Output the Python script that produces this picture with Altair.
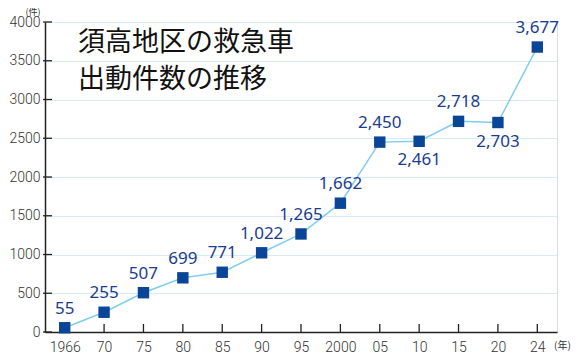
import altair as alt
import pandas as pd

years = ["1966", "70", "75", "80", "85", "90", "95", "2000", "05", "10", "15", "20", "24"]
counts = [55, 255, 507, 699, 771, 1022, 1265, 1662, 2450, 2461, 2718, 2703, 3677]
labels = ["55", "255", "507", "699", "771", "1,022", "1,265", "1,662", "2,450", "2,461", "2,718", "2,703", "3,677"]
below = [False, False, False, False, False, False, False, False, False, True, False, True, False]
yticks = [0, 500, 1000, 1500, 2000, 2500, 3000, 3500, 4000]
title_line1 = "須高地区の救急車"
title_line2 = "出動件数の推移"

df = pd.DataFrame({"year": years, "count": counts, "label": labels, "below": below})
above_df = df[~df["below"]]
below_df = df[df["below"]]
tick_df = pd.DataFrame({"count": yticks})

W, H = 512, 310
AXF = "Roboto"
xs = alt.Scale(domain=years, type="point", padding=0.5)
ys = alt.Scale(domain=[0, 4000], nice=False)

X = alt.X("year:N", scale=xs, sort=years,
          axis=alt.Axis(title=None, labelAngle=0, ticks=False, domain=True,
                        domainColor="#222", domainWidth=1.5, labelFont=AXF,
                        labelFontSize=14, labelFontWeight=300, labelColor="#333",
                        labelPadding=8, grid=False, labelOverlap=False))
Y = alt.Y("count:Q", scale=ys,
          axis=alt.Axis(title=None, values=yticks, format="d", ticks=False, domain=True,
                        domainColor="#222", domainWidth=1.5, labelFont=AXF,
                        labelFontSize=14, labelFontWeight=300, labelColor="#333", labelPadding=5,
                        labelOverlap=False,
                        grid=True, gridColor="#d6ecf7", gridWidth=1))

base = alt.Chart(df)

line = base.mark_line(color="#7fcdf0", strokeWidth=1.5).encode(x=X, y=Y)

xt = alt.Chart(df).mark_rule(color="#222", strokeWidth=1.3).encode(
    x=X, y=alt.value(H), y2=alt.value(H - 8))
yt = alt.Chart(tick_df).mark_rule(color="#222", strokeWidth=1.3).encode(
    y=Y, x=alt.value(-2), x2=alt.value(7))

pts = base.mark_square(size=130, color="#0a4597", opacity=1).encode(x=X, y=Y)

lab_a = alt.Chart(above_df).mark_text(dy=-19, fontSize=17, color="#1b3c8e",
                                      font="Noto Sans").encode(x=X, y=Y, text="label:N")
lab_b = alt.Chart(below_df).mark_text(dy=19, fontSize=17, color="#1b3c8e",
                                      font="Noto Sans").encode(x=X, y=Y, text="label:N")

def title_text(t, ypix):
    return alt.Chart(pd.DataFrame({"t": [t]})).mark_text(
        align="left", baseline="middle", fontSize=27,
        font="Noto Sans CJK JP", color="#111").encode(
        x=alt.value(33), y=alt.value(ypix), text="t:N")

t1 = title_text(title_line1, 21)
t2 = title_text(title_line2, 58)

unit_y = alt.Chart(pd.DataFrame({"t": ["(件)"]})).mark_text(
    fontSize=9, color="#333", font="Noto Sans CJK JP", align="center", baseline="top").encode(
    x=alt.value(-12), y=alt.value(-14), text="t:N")
unit_x = alt.Chart(pd.DataFrame({"t": ["(年)"]})).mark_text(
    fontSize=10, color="#333", font="Noto Sans CJK JP", align="left", baseline="middle").encode(
    x=alt.value(W - 3), y=alt.value(H + 14), text="t:N")

chart = alt.layer(line, xt, yt, pts, lab_a, lab_b, t1, t2, unit_y, unit_x).properties(
    width=W, height=H,
    autosize=alt.AutoSizeParams(type="none"),
    padding={"left": 37, "top": 14, "right": 21, "bottom": 27},
).configure_view(stroke=None).configure(background="white")

chart.save("out.html", embed_options={"renderer": "svg", "actions": False})
